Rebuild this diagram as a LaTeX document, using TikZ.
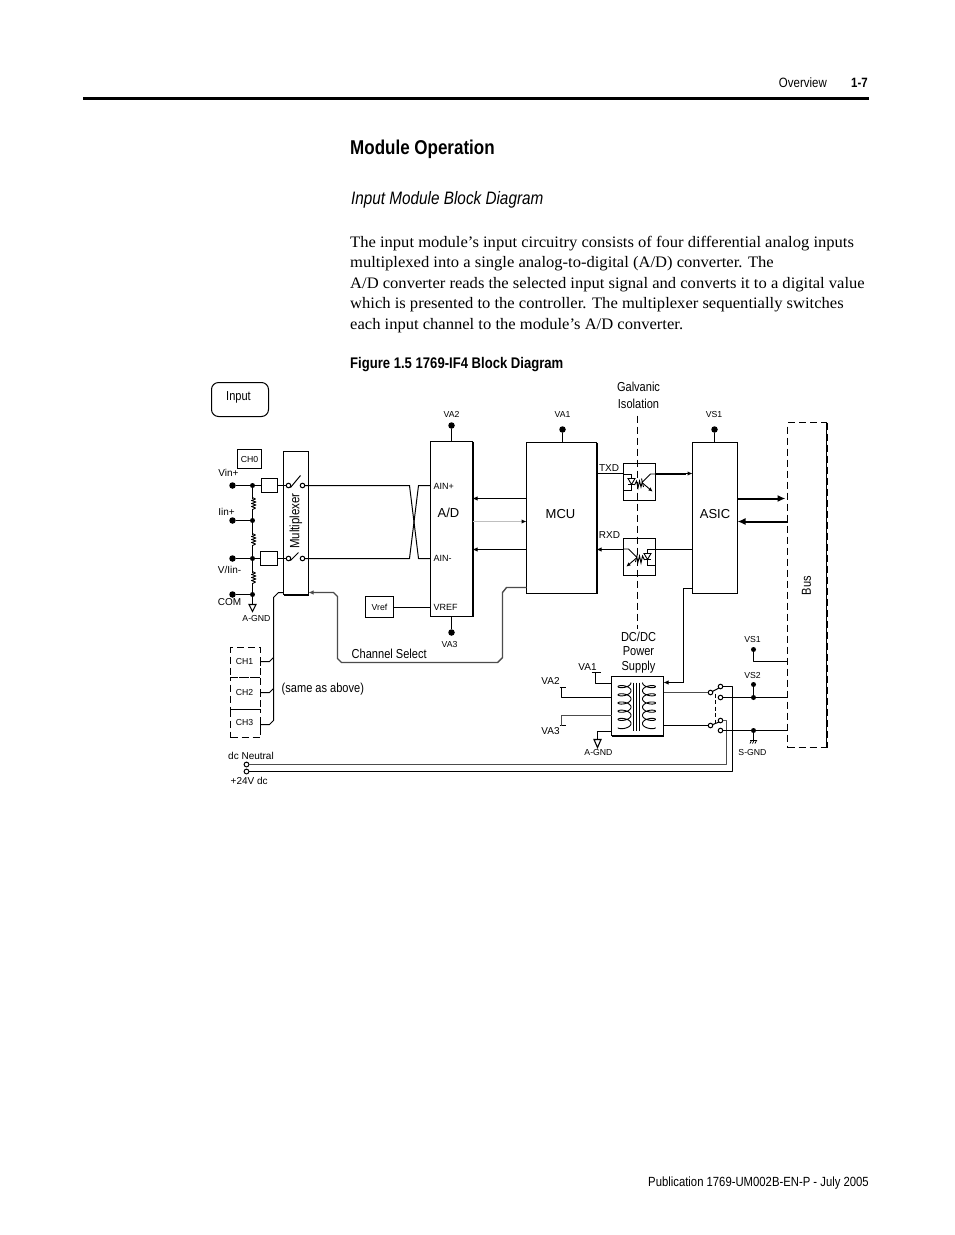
\documentclass[tikz,border=0pt]{standalone}
\usepackage{fontspec}
\setmainfont{Liberation Sans}
\newfontfamily\cond[FakeStretch=0.85]{Liberation Sans}
\newfontfamily\bodyfont[FakeStretch=1.035]{Liberation Serif}
\usetikzlibrary{arrows.meta}
\newcommand\fs[1]{\fontsize{#1}{#1}\selectfont}
\tikzset{
  wire/.style={line width=1pt,line join=round},
  hwire/.style={line width=2pt,line join=round},
  gwire/.style={line width=1.4pt,draw=black!70,line join=round},
  arr/.style={-{Latex[length=5pt,width=4.5pt]}},
  barr/.style={-{Latex[length=8pt,width=7pt]}},
  box/.style={draw,line width=1pt,inner sep=0pt,outer sep=0pt},
  dash1/.style={dash pattern=on 7pt off 4pt,line width=1pt},
  dot/.style={circle,fill,inner sep=0pt,outer sep=0pt,minimum size=6.5pt},
  jdot/.style={circle,fill,inner sep=0pt,outer sep=0pt,minimum size=5pt},
  ring/.style={circle,draw,fill=white,line width=1pt,inner sep=0pt,outer sep=0pt,minimum size=4.6pt},
  sm/.style={inner sep=0pt,font=\fs{8.7}},
  md/.style={inner sep=0pt,font=\fs{10}},
  big/.style={inner sep=0pt,font=\fs{13}},
  cn/.style={inner sep=0pt,font=\cond\fs{13}},
  para/.style={inner sep=0pt,anchor=base west,font=\bodyfont\fs{16}},
}
% resistor on a vertical wire
\newcommand\resis[2]{\fill[white] (#1-1,#2-5) rectangle (#1+1,#2+5);\draw[line width=0.9pt,line join=round] (#1,#2-6) -- (#1+3,#2-4.5) -- (#1-1,#2-3) -- (#1+3.5,#2-1.5) -- (#1-1,#2) -- (#1+3.5,#2+1.5) -- (#1-1,#2+3) -- (#1+3,#2+4.5) -- (#1,#2+6);}
% optocoupler inside, local origin at box centre
\newcommand\optoin{%
  \draw[line width=0.9pt] (-16,-8) -- (-8,-8) -- (-8,8.5) -- (-16,8.5);
  \draw[line width=0.9pt,fill=white] (-11.5,-3.5) -- (-4.5,-3.5) -- (-8,2.5) -- cycle;
  \draw[line width=0.9pt] (-11.5,2.5) -- (-4.5,2.5);
  \draw[line width=0.9pt] (-5,3) -- (-3,-1) -- (-1.5,6) -- (0,-1) -- (1.5,5) -- (3,-1);
  \draw[line width=0.9pt] (2,-3.5) -- (4,5);
  \draw[line width=0.9pt] (16,-8) -- (11,-8) -- (3,0);
  \draw[line width=0.9pt,-{Latex[length=4pt,width=4pt]}] (3,1) -- (13,9.5);
}
\begin{document}
\begin{tikzpicture}[x=1pt,y=-1pt]
\useasboundingbox[fill=white] (0,0) rectangle (954,1235);
% page furniture
\node[cn,anchor=base east,font=\cond\fs{13.5}] (ov) at (827,87) {Overview};
\node[cn,anchor=base east,font=\cond\bfseries\fs{13.5}] (pg) at (868,87) {1-7};
\coordinate (ruleL) at (83,98.5); \coordinate (ruleR) at (869,98.5);
\draw[line width=3pt] (ruleL) -- (ruleR);
\node[inner sep=0pt,anchor=base west,font=\cond\bfseries\fs{20}] (title) at (350,154) {Module Operation};
\node[inner sep=0pt,anchor=base west,font=\cond\itshape\fs{18}] (sub) at (351,204) {Input Module Block Diagram};
\node[para] (p1) at (350,247) {The input module’s input circuitry consists of four differential analog inputs};
\node[para] (p2) at (350,267.5) {multiplexed into a single analog-to-digital (A/D) converter. The};
\node[para] (p3) at (350,288) {A/D converter reads the selected input signal and converts it to a digital value};
\node[para] (p4) at (350,308.5) {which is presented to the controller. The multiplexer sequentially switches};
\node[para] (p5) at (350,329) {each input channel to the module’s A/D converter.};
\node[inner sep=0pt,anchor=base west,font=\cond\bfseries\fs{15.4}] (cap) at (350,368) {Figure 1.5 1769-IF4 Block Diagram};
\node[inner sep=0pt,anchor=base east,font=\cond\fs{13.3}] (foot) at (869,1186) {Publication 1769-UM002B-EN-P - July 2005};

\begin{scope}[shift={(0.5,0.5)}]
% boxes
\node[box,rounded corners=7pt,minimum width=57pt,minimum height=34pt] (input) at (239.5,399) {};
\node[cn] at (238,396.5) {Input};
\node[box,minimum width=24pt,minimum height=19pt,font=\fs{8.7}] (ch0) at (249,458.5) {CH0};
\node[box,minimum width=25pt,minimum height=143pt] (mux) at (295.5,522.5) {};
\node[cn,rotate=90,font=\cond\fs{13.5}] at (295.5,520.5) {Multiplexer};
\draw[hwire] (mux.south west) -- (mux.south east);
\node[box,minimum width=42pt,minimum height=175pt] (ad) at (451,528.5) {};
\draw[hwire] (ad.north east) -- (ad.south east);
\node[big] at (448,512) {A/D};
\node[box,minimum width=28pt,minimum height=21pt,font=\fs{8.7}] (vref) at (379,606.5) {Vref};
\node[box,minimum width=70pt,minimum height=151pt] (mcu) at (561,517.5) {};
\draw[hwire] (mcu.north east) -- (mcu.south east);
\node[big] at (560,514) {MCU};
\node[box,minimum width=45pt,minimum height=151pt] (asic) at (714.5,517.5) {};
\node[big] at (714.5,514) {ASIC};
\node[box,minimum width=32pt,minimum height=37pt] (opto1) at (639,481.5) {};
\node[box,minimum width=32pt,minimum height=37pt] (opto2) at (639,556.5) {};
\node[box,minimum width=16pt,minimum height=14pt] (rb1) at (269,485) {};
\node[box,minimum width=17pt,minimum height=14pt] (rb2) at (268.5,558) {};
\node[box,minimum width=52pt,minimum height=59pt] (dc) at (637,705.5) {};
\draw[hwire] (dc.south west) -- (dc.south east);
\node[draw,dash1,inner sep=0pt,outer sep=0pt,minimum width=39pt,minimum height=325pt] (bus) at (806.5,584.5) {};
\draw[dash1,line width=2pt] (bus.north east) -- (bus.south east);
\node[cn,rotate=90] at (806,585) {Bus};

% isolation line
\coordinate (isoT) at (637,415); \coordinate (isoB) at (637,628);
\draw[dash1] (isoT) -- (isoB);
\node[cn] at (638,386) {Galvanic};
\node[cn] at (638,403) {Isolation};

% input terminals
\node[dot] (t1) at (232,485) {}; \node[dot] (t2) at (232,520) {};
\node[dot] (t3) at (232,558) {}; \node[dot] (t4) at (232,594) {};
\node[jdot] (j1) at (252,485) {}; \node[jdot] (j2) at (252,520) {};
\node[jdot] (j3) at (252,558) {}; \node[jdot] (j4) at (252,594) {};
\draw[wire] (t1) -- (j1) -- (rb1);
\draw[wire] (t2) -- (j2);
\draw[wire] (t3) -- (j3) -- (rb2);
\draw[wire] (t4) -- (j4);
\draw[wire] (j1) -- (j2) -- (j3) -- (j4);
\resis{252}{503}\resis{252}{539}\resis{252}{577}
\node[md] at (228,472) {Vin+};
\node[md] at (226,511) {Iin+};
\node[md] at (229,569) {V/Iin-};
\node[md] at (229,602) {COM};
\coordinate (g1) at (252,604);
\draw[wire] (j4) -- (g1);
\draw[line width=1.1pt,fill=white] (248.5,604) -- (255.5,604) -- (252,611) -- cycle;
\node[sm] at (256,618) {A-GND};

% mux switches
\node[ring] (s1a) at (288,485) {}; \node[ring] (s1b) at (302,485) {};
\node[ring] (s2a) at (288,558) {}; \node[ring] (s2b) at (302,558) {};
\draw[wire] (rb1) -- (s1a); \draw[wire] (rb2) -- (s2a);
\coordinate (b1a) at (290,487); \coordinate (b1b) at (300,475);
\coordinate (b2a) at (290,560); \coordinate (b2b) at (298,552);
\draw[wire] (b1a) -- (b1b); \draw[wire] (b2a) -- (b2b);

% crossover to A/D
\coordinate (c1) at (409,485); \coordinate (c2) at (418,558);
\coordinate (c3) at (409,558); \coordinate (c4) at (418,485);
\node[sm,anchor=west,font=\fs{9}] (ainp) at (433,486) {AIN+};
\node[sm,anchor=west,font=\fs{9}] (ainm) at (433,558) {AIN-};
\node[sm,anchor=west,font=\fs{9}] (vrefl) at (433,607) {VREF};
\draw[wire] (s1b) -- (c1) -- (c2) -- (ad.west |- c2);
\draw[wire] (s2b) -- (c3) -- (c4) -- (ad.west |- c4);
\draw[wire] (vref) -- (ad.west |- vref);

% supply pins
\node[dot] (va2) at (451,425) {}; \node[sm] at (451,414) {VA2};
\node[dot] (va3) at (451,632) {}; \node[sm] at (449,644) {VA3};
\node[dot] (va1) at (562,429) {}; \node[sm] at (562,414) {VA1};
\node[dot] (vs1) at (714,429) {}; \node[sm] at (713.5,414) {VS1};
\draw[wire] (va2) -- (ad.north -| va2);
\draw[wire] (va3) -- (ad.south -| va3);
\draw[wire] (va1) -- (mcu.north -| va1);
\draw[wire] (vs1) -- (asic.north -| vs1);

% MCU to A/D
\coordinate (y1) at (0,498); \coordinate (y2) at (0,521); \coordinate (y3) at (0,549);
\draw[wire,arr] (mcu.west |- y1) -- (ad.east |- y1);
\draw[line width=0.7pt,draw=black!25] (ad.east |- y2) -- (522,521);
\draw[wire,arr] (521,521) -- (mcu.west |- y2);
\draw[wire,arr] (mcu.west |- y3) -- (ad.east |- y3);

% opto couplers
\begin{scope}[shift={(639,481.5)}]\optoin\end{scope}
\begin{scope}[shift={(639,556.5)},xscale=-1]\optoin\end{scope}
\coordinate (ty) at (0,473);
\draw[wire] (mcu.east |- ty) -- (opto1.west |- ty);
\draw[hwire] (opto1.east |- ty) -- (685,473);
\draw[wire,arr] (685,473) -- (asic.west |- ty);
\draw[wire] (asic.west |- y3) -- (opto2.east |- y3);
\draw[wire,arr] (opto2.west |- y3) -- (mcu.east |- y3);
\node[md] at (608.5,468) {TXD};
\node[md] at (609,535) {RXD};

% ASIC to bus
\draw[hwire,barr] (asic.east |- y1) -- (785,498);
\draw[hwire,barr] (bus.west |- y2) -- (asic.east |- y2);

% channel select
\coordinate (cs1) at (333,592); \coordinate (cs2) at (337,596); \coordinate (cs3) at (337,658);
\coordinate (cs4) at (341,662); \coordinate (cs5) at (497,662); \coordinate (cs6) at (502,657);
\coordinate (cs7) at (502,592); \coordinate (cs8) at (506,587);
\draw[gwire,arr] (mcu.west |- cs8) -- (cs8) -- (cs7) -- (cs6) -- (cs5) -- (cs4) -- (cs3) -- (cs2) -- (cs1) -- (mux.east |- cs1);
\node[cn,anchor=base west] at (351,658) {Channel Select};

% CH1..3
\node[draw,dash1,inner sep=0pt,outer sep=0pt,minimum width=30pt,minimum height=30pt] (ch1) at (245,662) {};
\node[draw,dash1,inner sep=0pt,outer sep=0pt,minimum width=30pt,minimum height=32pt] (ch2) at (245,693) {};
\node[draw,dash1,inner sep=0pt,outer sep=0pt,minimum width=30pt,minimum height=28pt] (ch3) at (245,723) {};
\node[sm] at (244,661) {CH1};
\node[sm] at (244,692) {CH2};
\node[sm] at (244,722) {CH3};
\coordinate (m0) at (283,592); \coordinate (m1) at (278,592); \coordinate (m2) at (273,597);
\coordinate (m3) at (273,720); \coordinate (m4) at (269,724);
\draw[wire] (mux.south west |- m0) -- (m1) -- (m2) -- (m3) -- (m4) -- (260,724);
\draw[wire] (260,720) -- (260,728);
\draw[wire] (273,657) -- (269,661) -- (260,661);
\draw[wire] (260,657) -- (260,665);
\draw[wire] (273,688) -- (269,692) -- (260,692);
\draw[wire] (260,688) -- (260,696);
\node[cn,anchor=base west] at (281,692) {(same as above)};

% dc input
\node[ring,minimum size=4.8pt] (dcn) at (246,764) {};
\node[ring,minimum size=4.8pt] (dcp) at (246,771) {};
\node[md,anchor=west] at (227.5,755) {dc Neutral};
\node[md,anchor=west] at (230,780) {+24V dc};

% DC/DC supply
\node[cn] at (638,636) {DC/DC};
\node[cn] at (638,651) {Power};
\node[cn] at (638,667) {Supply};
\draw[line width=0.9pt] (633,682) -- (633,730) (636,682) -- (636,730) (639,682) -- (639,730);
\draw[line width=0.9pt] plot[domain=0:1980,samples=240] ({624+6.5*cos(\x)},{682+\x/360*8.2+2.8*sin(\x)});
\draw[line width=0.9pt] plot[domain=0:1980,samples=240] ({648.5-6.5*cos(\x)},{682+\x/360*8.2+2.8*sin(\x)});
\node[md] at (587,667) {VA1};
\node[md] at (550,680) {VA2};
\node[md] at (550,731) {VA3};
\coordinate (v1) at (595,672); \coordinate (v1b) at (595,683);
\draw[wire] (591,672) -- (600,672);
\draw[wire] (v1) -- (v1b) -- (dc.west |- v1b);
\coordinate (v2) at (561,687); \coordinate (v2b) at (561,697);
\draw[wire] (559,687) -- (565,687);
\draw[wire] (v2) -- (v2b) -- (dc.west |- v2b);
\coordinate (v3) at (561,725); \coordinate (v3b) at (561,715);
\draw[wire] (559,725) -- (565,725);
\draw[gwire] (v3) -- (v3b) -- (dc.west |- v3b);
\coordinate (g2) at (597,731); \coordinate (g2b) at (597,739);
\draw[wire] (dc.west |- g2) -- (g2) -- (g2b);
\draw[line width=1.1pt,fill=white] (593.5,739) -- (600.5,739) -- (597,747) -- cycle;
\node[sm] at (598,752) {A-GND};
\coordinate (fb1) at (683,588); \coordinate (fb2) at (683,682);
\draw[wire] (asic.west |- fb1) -- (fb1) -- (fb2);
\draw[wire,arr] (fb2) -- (dc.east |- fb2);

% output switches
\node[ring] (w1) at (710,692) {}; \node[ring] (w2) at (720,686) {}; \node[ring] (w3) at (720,697) {};
\node[ring] (w4) at (710,725) {}; \node[ring] (w5) at (720,720) {}; \node[ring] (w6) at (720,730) {};
\draw[gwire] (dc.east |- w1) -- (w1);
\draw[wire] (dc.east |- w4) -- (w4);
\draw[wire] (w1) -- (718.5,687.5); \draw[wire] (w4) -- (718.5,721.5);
\coordinate (k1) at (715,693); \coordinate (k2) at (715,724);
\draw[wire,dash pattern=on 4pt off 2.5pt] (k1) -- (k2);
\coordinate (p1a) at (732,686); \coordinate (p1b) at (732,771);
\draw[wire] (w2) -- (p1a) -- (p1b) -- (dcp);
\coordinate (p2a) at (726,720); \coordinate (p2b) at (726,764);
\draw[gwire] (w5) -- (p2a) -- (p2b) -- (dcn);
\node[jdot] (vs2j) at (753,697) {};
\node[jdot] (vs2d) at (753,684) {};
\node[jdot] (sgj) at (753,730) {};
\node[jdot] (vs1d) at (753,649) {};
\node[sm] at (752,638.7) {VS1};
\node[sm] at (752,675) {VS2};
\node[sm] at (752,752) {S-GND};
\draw[wire] (w3) -- (vs2j) -- (bus.west |- vs2j);
\draw[wire] (vs2d) -- (vs2j);
\draw[wire] (w6) -- (sgj) -- (bus.west |- sgj);
\coordinate (vs1c) at (753,661);
\draw[wire] (vs1d) -- (vs1c) -- (bus.west |- vs1c);
\coordinate (sg) at (753,740);
\draw[wire] (sgj) -- (sg);
\draw[line width=0.8pt] (749.5,740) -- (756.5,740) (751,740) -- (749.5,743) (753.5,740) -- (752,743) (756,740) -- (754.5,743);
\end{scope}
\end{tikzpicture}
\end{document}
